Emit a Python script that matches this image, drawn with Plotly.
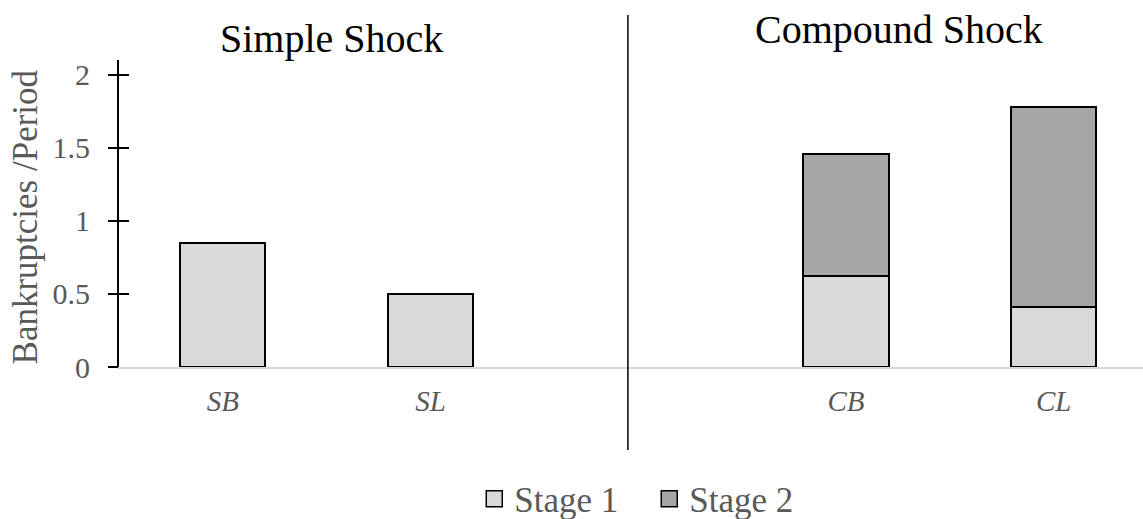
import plotly.graph_objects as go

categories = ["SB", "SL", " ", "CB", "CL"]
stage1 = [0.85, 0.50, None, 0.62, 0.41]
stage2 = [None, None, None, 0.84, 1.37]
y_ticks = [0, 0.5, 1, 1.5, 2]
y_tick_labels = ["0", "0.5", "1", "1.5", "2"]

FONT = "Liberation Serif, Times New Roman, serif"
GRAY = "#595959"
C1, C2 = "#d9d9d9", "#a6a6a6"

W, H = 1143, 519
L, R, T, B = 118.6, 1143, 60, 367
PW, PH = R - L, B - T


def px(xp):
    return (xp - L) / PW


def py(yp):
    return (B - yp) / PH


fig = go.Figure()
fig.add_trace(go.Bar(
    x=categories, y=stage1, name="Stage 1", showlegend=False,
    marker=dict(color=C1, line=dict(color="black", width=2)),
    width=0.41,
))
fig.add_trace(go.Bar(
    x=categories, y=stage2, name="Stage 2", showlegend=False,
    marker=dict(color=C2, line=dict(color="black", width=2)),
    width=0.41,
))
# legend entries with larger square swatches
for name, col in (("Stage 1", C1), ("Stage 2", C2)):
    fig.add_trace(go.Scatter(
        x=[None], y=[None], name=name, mode="markers",
        marker=dict(symbol="square", size=16, color=col, line=dict(color="black", width=1.5)),
    ))

tick_axis = dict(range=[0, 2.1], overlaying="y", side="left", automargin=False,
                 showgrid=False, zeroline=False, showline=False, showticklabels=False,
                 ticklen=10, tickwidth=2, tickcolor="black")

fig.update_layout(
    template="none",
    barmode="stack",
    width=W, height=H,
    margin=dict(l=L, r=W - R, t=T, b=H - B, autoexpand=False),
    plot_bgcolor="white", paper_bgcolor="white",
    font=dict(family=FONT, color=GRAY, size=28),
    showlegend=True,
    legend=dict(orientation="h", x=px(474), y=py(499), xanchor="left", yanchor="middle",
                font=dict(size=35, color=GRAY, family=FONT), itemwidth=30,
                entrywidth=130, entrywidthmode="pixels",
                traceorder="normal", bgcolor="rgba(0,0,0,0)", itemsizing="trace"),
    xaxis=dict(
        type="category", categoryorder="array", categoryarray=categories,
        range=[-0.5, 4.43], showgrid=False, zeroline=False, automargin=False,
        showline=True, linecolor="#d9d9d9", linewidth=2,
        ticks="", tickfont=dict(size=29, color=GRAY, family=FONT, style="italic"),
        ticklabelstandoff=7,
    ),
    yaxis=dict(
        range=[0, 2.1], tickvals=y_ticks, ticktext=y_tick_labels, automargin=False,
        showgrid=False, zeroline=False, showline=True, linecolor="black", linewidth=2,
        ticks="outside", ticklen=21, tickwidth=2, tickcolor="rgba(0,0,0,0)",
        tickfont=dict(size=30, color=GRAY, family=FONT),
    ),
    yaxis2=dict(tick_axis, tickvals=y_ticks, ticks="outside"),
    yaxis3=dict(tick_axis, tickvals=y_ticks[1:], ticks="inside"),
)

# invisible traces to activate the tick-only axes
for ax in ("y2", "y3"):
    fig.add_trace(go.Scatter(x=[categories[0]], y=[0], yaxis=ax, mode="markers",
                             marker=dict(opacity=0), showlegend=False, hoverinfo="skip"))

# divider between simple and compound shock
fig.add_shape(type="line", xref="x", yref="paper", x0=1.95, x1=1.95,
              y0=py(15), y1=py(450), line=dict(color="black", width=1.5))

fig.add_annotation(text="Simple Shock", xref="paper", yref="paper", x=px(331), y=py(39),
                   xanchor="center", yanchor="middle", showarrow=False,
                   font=dict(size=40, color="black", family=FONT))
fig.add_annotation(text="Compound Shock", xref="paper", yref="paper", x=px(899), y=py(30),
                   xanchor="center", yanchor="middle", showarrow=False,
                   font=dict(size=40, color="black", family=FONT))
fig.add_annotation(text="Bankruptcies /Period", xref="paper", yref="paper", x=px(25), y=py(217),
                   xanchor="center", yanchor="middle", showarrow=False, textangle=-90,
                   font=dict(size=35, color=GRAY, family=FONT))

fig.write_html("out.html", config={"displayModeBar": False},
               post_script="document.body.style.margin='0px';")
